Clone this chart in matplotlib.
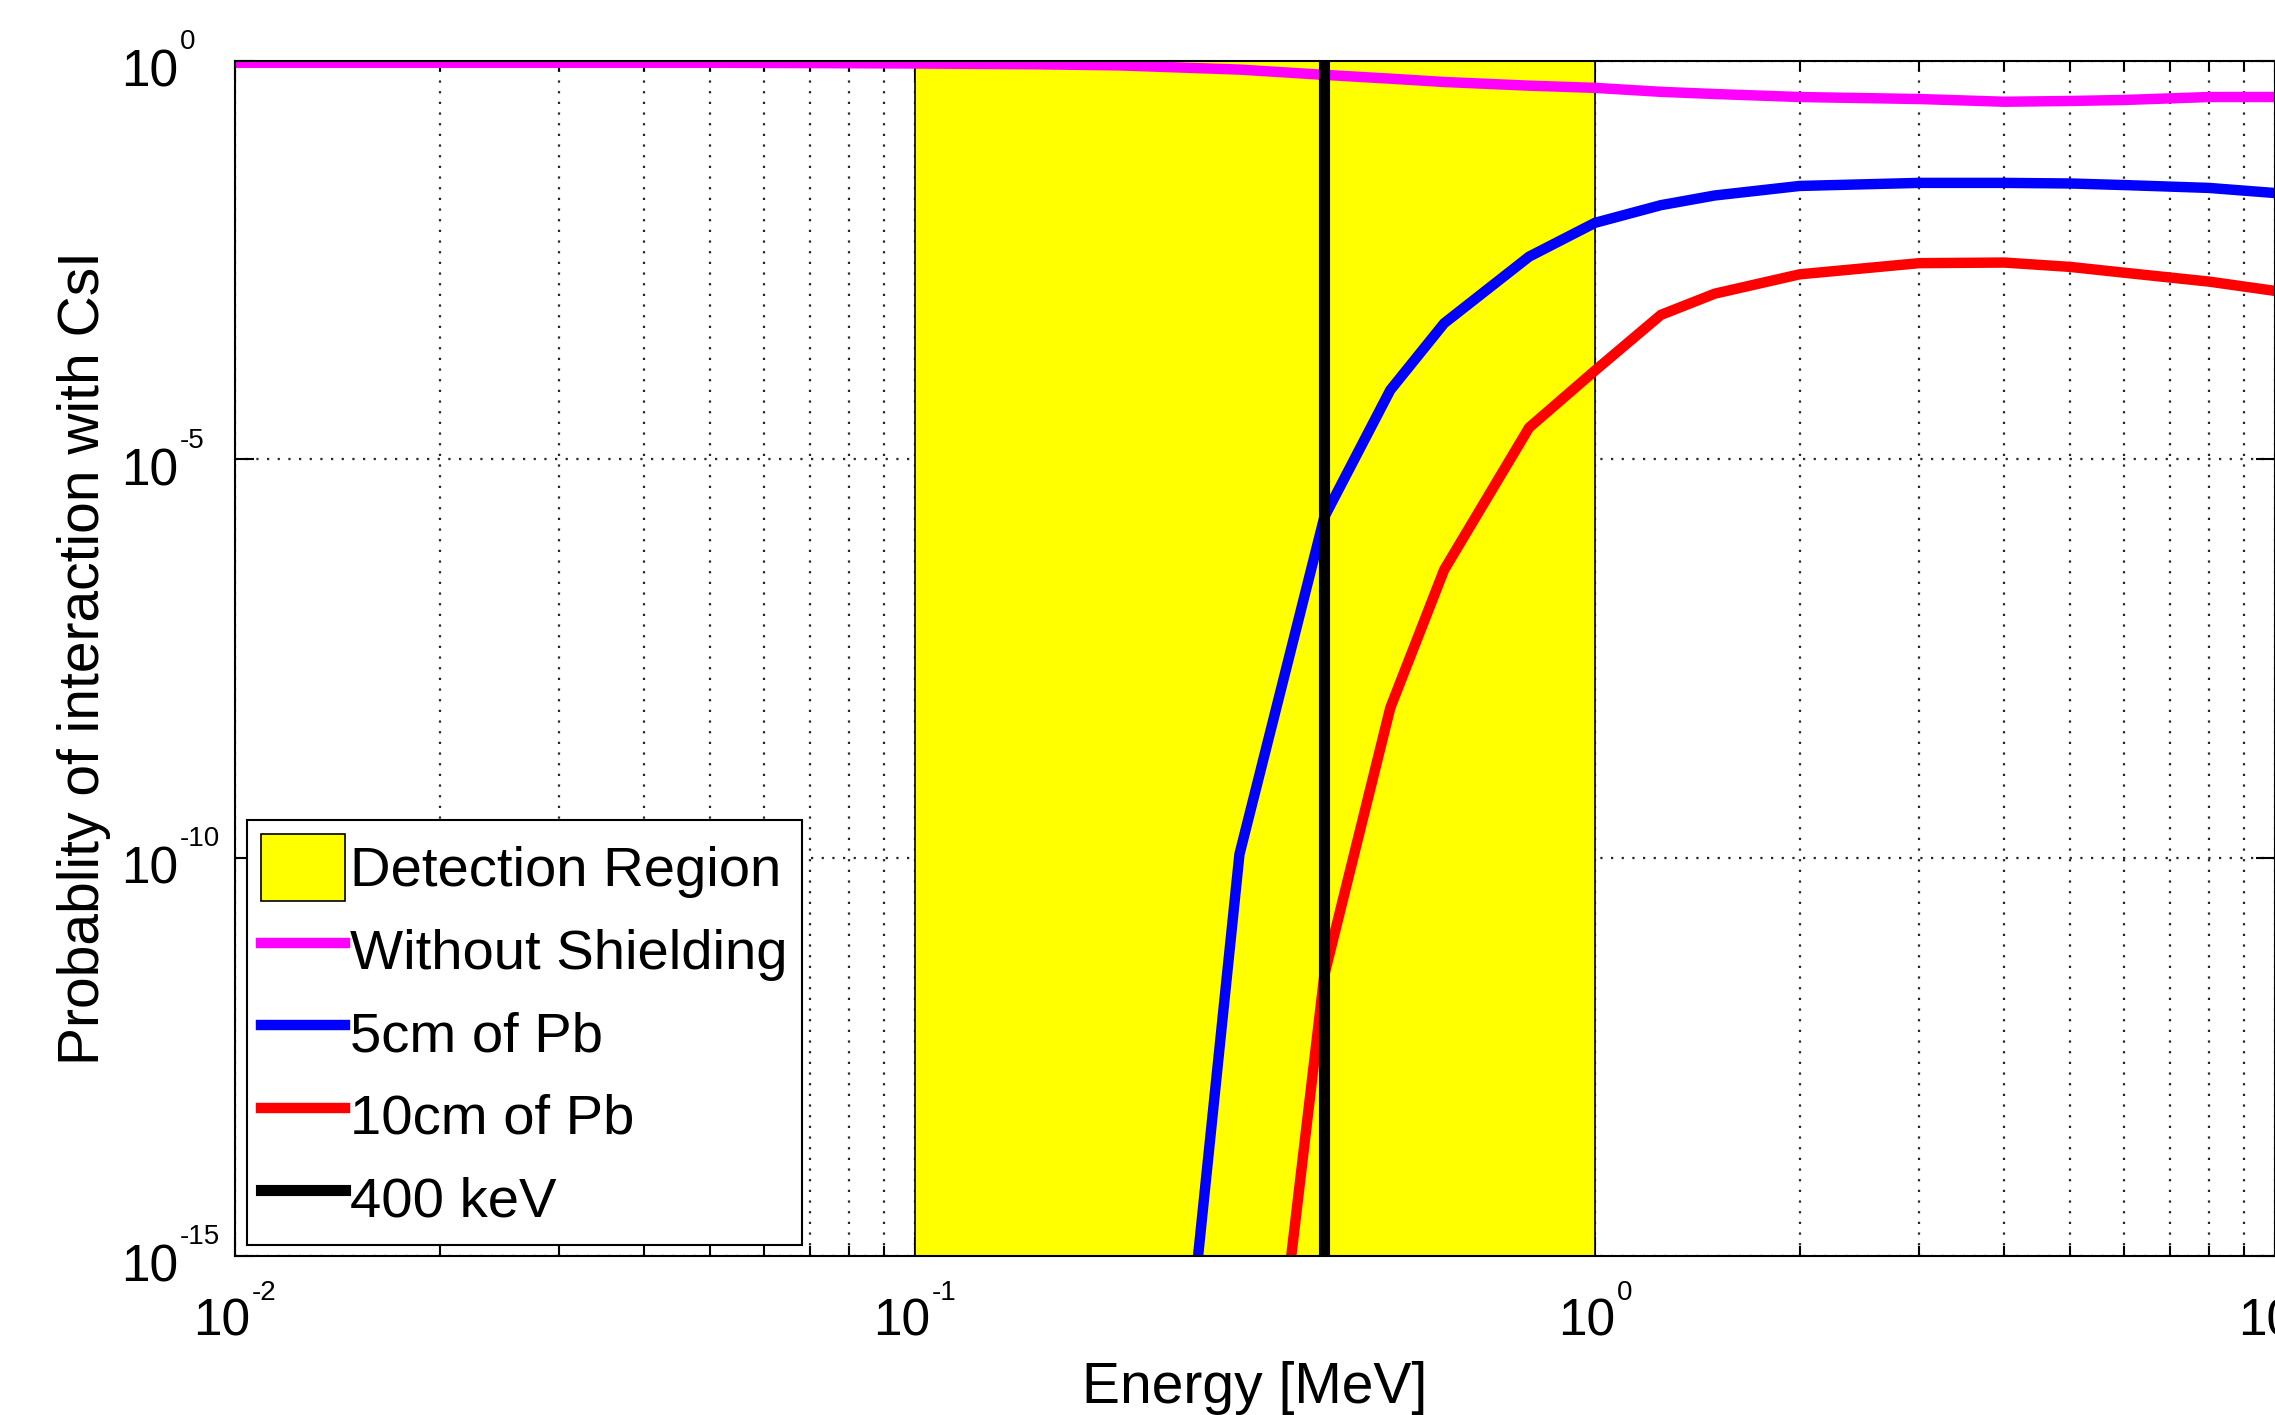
import matplotlib
matplotlib.use('Agg')
import numpy as np
import matplotlib.pyplot as plt
from matplotlib.ticker import LogLocator, NullLocator, NullFormatter

plt.rcParams['font.family'] = ['Liberation Sans', 'DejaVu Sans']

# Energies [MeV] and interaction probabilities
energy_bare = [0.01, 0.02, 0.05, 0.1, 0.15, 0.2, 0.3, 0.4, 0.5, 0.6, 0.8,
               1.0, 1.25, 1.5, 2, 3, 4, 5, 6, 8, 10]
p_bare = [0.95, 0.95, 0.95, 0.93, 0.91, 0.88, 0.78, 0.67, 0.60, 0.545, 0.49,
          0.46, 0.41, 0.385, 0.353, 0.333, 0.308, 0.315, 0.324, 0.353, 0.353]

energy_5cm = [0.25, 0.3, 0.4, 0.5, 0.6, 0.8, 1.0, 1.25, 1.5, 2, 3, 4, 5, 6, 8, 10]
p_5cm = [3e-17, 1.1e-10, 1.9e-6, 7.4e-5, 5.1e-4, 3.5e-3, 9.3e-3, 0.0155, 0.0205,
         0.027, 0.0295, 0.0295, 0.029, 0.0277, 0.0255, 0.022]

energy_10cm = [0.3, 0.4, 0.5, 0.6, 0.8, 1.0, 1.25, 1.5, 2, 3, 4, 5, 6, 8, 10]
p_10cm = [3e-21, 3.4e-12, 7.6e-9, 4.1e-7, 2.5e-5, 1.3e-4, 6.5e-4, 1.2e-3,
          2.1e-3, 2.9e-3, 2.95e-3, 2.6e-3, 2.2e-3, 1.7e-3, 1.3e-3]

region = [0.1, 1.0]
marker_energy = 0.4

xticks = [1e-2, 1e-1, 1e0, 1e1]
yticks = [1e-15, 1e-10, 1e-5, 1e0]

fig = plt.figure(figsize=(22.75, 14.15), dpi=100)
ax = fig.add_axes([0.1033, 0.1124, 0.8967, 0.8445])

ax.axvspan(region[0], region[1], facecolor='#ffff00', edgecolor='k', lw=1.2,
           zorder=1, label='Detection Region')
ax.plot(energy_bare, p_bare, color='#ff00ff', lw=7.5, label='Without Shielding', zorder=2)
ax.plot(energy_5cm, p_5cm, color='#0000ff', lw=7.5, label='5cm of Pb', zorder=2)
ax.plot(energy_10cm, p_10cm, color='#ff0000', lw=7.5, label='10cm of Pb', zorder=2)
ax.axvline(marker_energy, color='k', lw=8, label='400 keV', zorder=3)

ax.set_xscale('log')
ax.set_yscale('log')
ax.set_xlim(xticks[0], xticks[-1])
ax.set_ylim(yticks[0], yticks[-1])
ax.set_xticks(xticks)
ax.set_yticks(yticks)
ax.yaxis.set_minor_locator(NullLocator())
ax.xaxis.set_minor_locator(LogLocator(base=10, subs=range(2, 10)))
ax.xaxis.set_major_formatter(NullFormatter())
ax.xaxis.set_minor_formatter(NullFormatter())
ax.yaxis.set_major_formatter(NullFormatter())

ax.set_axisbelow(True)
dots = (0, (1, 3.8))
ax.grid(True, which='major', axis='both', ls=dots, color='0.15', lw=1.6)
ax.grid(True, which='minor', axis='x', ls=dots, color='0.15', lw=1.6)

ax.tick_params(which='both', direction='in', top=True, right=True, width=1.5)
ax.tick_params(which='major', length=14)
ax.tick_params(which='minor', length=7)
for s in ax.spines.values():
    s.set_linewidth(1.5)

# MATLAB style "10" with a small raised exponent
base_fs, exp_fs = 37, 20


def exp_text(v):
    return str(int(round(np.log10(v))))


def exp_width(s):
    # Arial/Liberation metrics: digits 0.556 em, hyphen 0.333 em
    return exp_fs * sum(0.333 if c == '-' else 0.556 for c in s)


for v in yticks:
    e = exp_text(v)
    ax.annotate('10', xy=(0, v), xycoords=ax.get_yaxis_transform(),
                xytext=(-41, -18.5), textcoords='offset points',
                ha='right', va='baseline', fontsize=base_fs, annotation_clip=False)
    ax.annotate(e, xy=(0, v), xycoords=ax.get_yaxis_transform(),
                xytext=(-39.5, 8.5), textcoords='offset points',
                ha='left', va='baseline', fontsize=exp_fs, annotation_clip=False)

for v in xticks:
    e = exp_text(v)
    total = 41 + 1 + exp_width(e)
    ax.annotate('10', xy=(v, 0), xycoords=ax.get_xaxis_transform(),
                xytext=(-total / 2, -57), textcoords='offset points',
                ha='left', va='baseline', fontsize=base_fs, annotation_clip=False)
    ax.annotate(e, xy=(v, 0), xycoords=ax.get_xaxis_transform(),
                xytext=(-total / 2 + 42, -31.5), textcoords='offset points',
                ha='left', va='baseline', fontsize=exp_fs, annotation_clip=False)

ax.set_xlabel('Energy [MeV]', fontsize=41)
ax.set_ylabel('Probablity of interaction with CsI', fontsize=41)
ax.xaxis.set_label_coords(0.5, -0.088)
ax.yaxis.set_label_coords(-0.0606, 0.5)

leg = ax.legend(loc='lower left', bbox_to_anchor=(0.006, 0.009), borderaxespad=0,
                fontsize=40.5, fancybox=False, edgecolor='k', framealpha=1,
                handlelength=1.48, handleheight=1.45, handletextpad=0.1,
                labelspacing=0.28, borderpad=0.25)
leg.get_frame().set_linewidth(1.5)

fig.savefig('out.png', dpi=100)
